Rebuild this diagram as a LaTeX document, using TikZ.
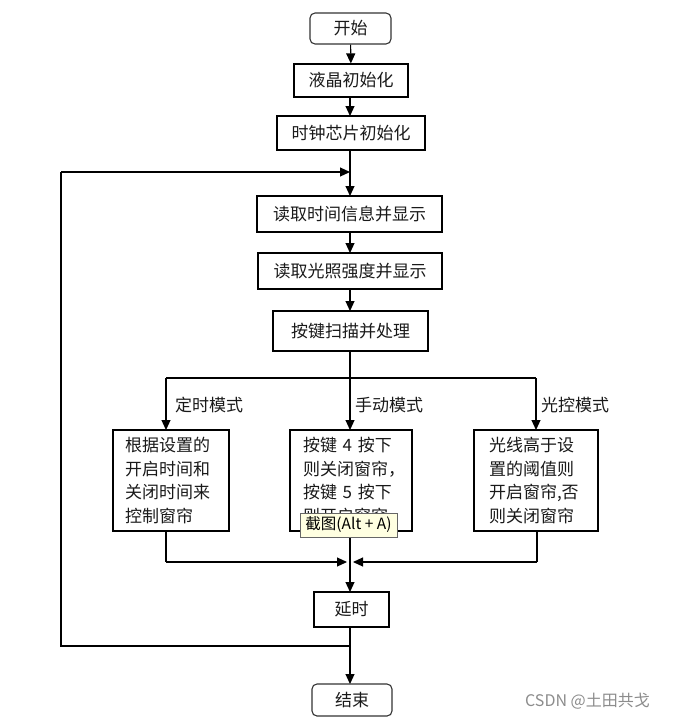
\documentclass[tikz,border=0pt]{standalone}
\usepackage{fontspec}
\setmainfont{Liberation Serif}
\newfontfamily\cjk{Noto Sans CJK SC}
\usetikzlibrary{arrows.meta}
\begin{document}
\begin{tikzpicture}[x=1pt,y=-1pt,
  every node/.style={font=\cjk\fontsize{17}{23.5}\selectfont, text=black!90},
  proc/.style={draw=black, line width=1.1pt, inner sep=0pt},
  term/.style={draw=black!80, line width=1.1pt, rounded corners=5pt, inner sep=0pt},
  textbox/.style={draw=black, line width=1.1pt, align=left, minimum height=101pt},
  conn/.style={draw=black, line width=1.1pt},
  arr/.style={conn, -{Triangle[length=10pt,width=9pt]}},
  lbl/.style={anchor=west, inner sep=0pt}
]
\useasboundingbox (0,0) rectangle (677,721);

% top chain
\node[term, minimum width=81pt, minimum height=31pt] (start) at (350.5,28.5) {开始};
\node[proc, minimum width=114pt, minimum height=33pt] (lcd) at (351,80.5) {液晶初始化};
\node[proc, minimum width=148pt, minimum height=34pt] (clk) at (351,133) {时钟芯片初始化};
\node[proc, minimum width=185pt, minimum height=36pt] (rt) at (349.5,214) {读取时间信息并显示};
\node[proc, minimum width=184pt, minimum height=36pt] (rl) at (350,271) {读取光照强度并显示};
\node[proc, minimum width=155pt, minimum height=40pt] (key) at (350.5,331) {按键扫描并处理};

% three mode boxes
\node[textbox, minimum width=116pt, text width=92pt, inner xsep=12pt, inner ysep=0pt] (lb) at (171,480.5)
  {根据设置的\\开启时间和\\关闭时间来\\控制窗帘};
\node[textbox, minimum width=122pt, text width=96pt, inner xsep=13pt, inner ysep=0pt] (mb) at (351,480.5)
  {按键 4 按下\\则关闭窗帘，\\按键 5 按下\\则开启窗帘};
\node[textbox, minimum width=124pt, text width=94pt, inner xsep=15pt, inner ysep=0pt] (rb) at (536,480.5)
  {光线高于设\\置的阈值则\\开启窗帘,否\\则关闭窗帘};

\node[proc, minimum width=75pt, minimum height=35pt] (delay) at (351.5,609.5) {延时};
\node[term, minimum width=80pt, minimum height=32pt] (end) at (352,700) {结束};

% coordinates
\coordinate (loopin) at (350,172);
\coordinate (br) at (350,378);
\coordinate (brl) at (166,378);
\coordinate (brr) at (536,378);
\coordinate (lbot) at (166,531);
\coordinate (rbot) at (537,531);
\coordinate (ml) at (166,562);
\coordinate (mr) at (537,562);
\coordinate (mlt) at (347,562);
\coordinate (mrt) at (353,562);
\coordinate (lp) at (350,646);
\coordinate (lpl) at (61,646);
\coordinate (lpu) at (61,172);

% connectors
\draw[arr] (start) -- (lcd);
\draw[arr] (lcd.south -| 350,0) -- (350,116);
\draw[arr] (350,150) -- (350,196);
\draw[arr] (rt.south -| 350,0) -- (350,253);
\draw[arr] (rl.south -| 350,0) -- (350,311);
\draw[arr] (key.south -| 350,0) -- (350,430);
\draw[conn] (brl) -- (brr);
\draw[arr] (brl) -- (166,430);
\draw[arr] (brr) -- (536,430);
\path (brl) ++(9,27) node[lbl] (l1) {定时模式};
\path (br) ++(5,27) node[lbl] (l2) {手动模式};
\path (brr) ++(5,27) node[lbl] (l3) {光控模式};
\draw[conn] (lbot) -- (ml);
\draw[arr] (ml) -- (mlt);
\draw[conn] (rbot) -- (mr);
\draw[arr] (mr) -- (mrt);
\draw[arr] (350,531) -- (350,592);
\draw[arr] (350,627) -- (350,684);
\draw[conn] (lp) -- (lpl) -- (lpu);
\draw[arr] (lpu) -- (loopin);

% tooltip overlay
\node[draw=black!60, fill={rgb,255:red,255;green,255;blue,225}, line width=0.8pt,
  minimum width=97pt, minimum height=24pt, inner sep=0pt,
  font=\cjk\fontsize{15.5}{17}\selectfont, text=black] (tip) at (348.5,525) {截图(Alt + A)};

% watermark
\node[anchor=west, inner sep=0pt, text=black!45, font=\cjk\fontsize{16}{18}\selectfont] (wm) at (525,701) {CSDN @土田共戈};
\end{tikzpicture}
\end{document}
